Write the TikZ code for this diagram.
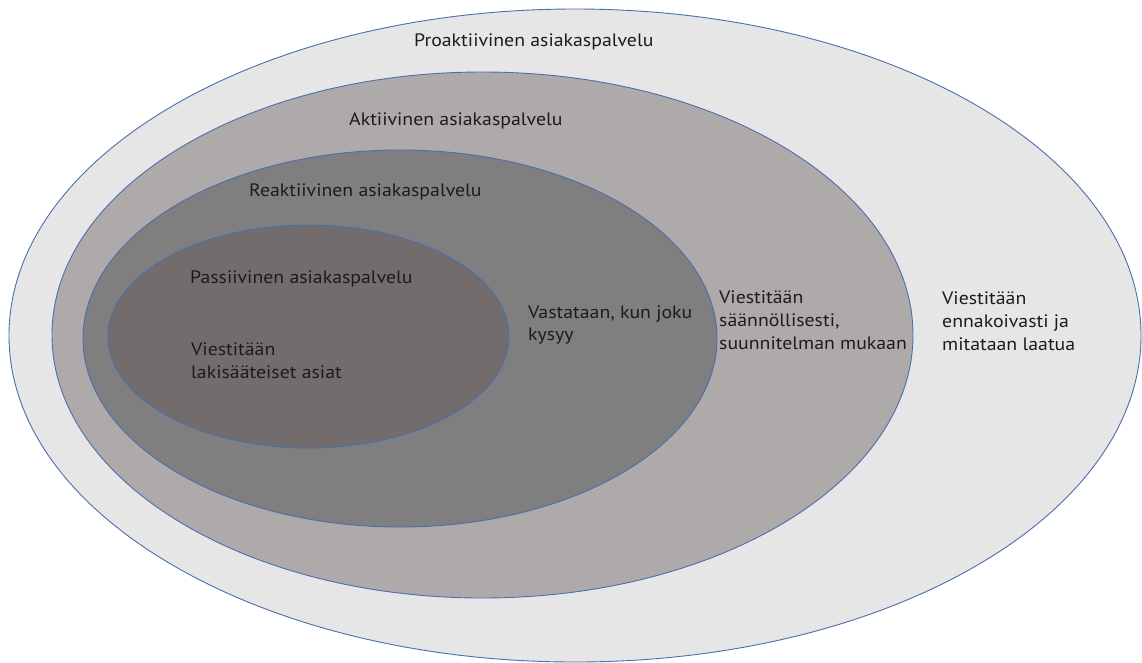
\documentclass[tikz,border=0pt]{standalone}
\usepackage{fontspec}
\setmainfont[FakeStretch=1.1]{PT Sans}
\definecolor{ringline}{HTML}{4A6FAE}
\definecolor{fillA}{HTML}{E7E6E6}
\definecolor{fillB}{HTML}{AEAAAA}
\definecolor{fillC}{HTML}{7F7F7F}
\definecolor{fillD}{HTML}{726D6C}
\definecolor{txt}{HTML}{1C1C1C}
\tikzset{
  ring/.style={draw=ringline, line width=0.9pt},
  lbl/.style={anchor=west, inner sep=0pt, align=left, text=txt,
    font=\fontsize{18}{22.8}\selectfont},
}
\begin{document}
\begin{tikzpicture}[x=1pt,y=-1pt]
\useasboundingbox (0,0) rectangle (1142,662);
\fill[white] (0,0) rectangle (1142,662);
\draw[ring, fill=fillA] (575,335.5) ellipse [x radius=566pt, y radius=326.5pt];
\draw[ring, fill=fillB] (482.5,335) ellipse [x radius=430.5pt, y radius=263pt];
\draw[ring, fill=fillC] (400,338.5) ellipse [x radius=317pt, y radius=188.5pt];
\draw[ring, fill=fillD] (308.5,336.5) ellipse [x radius=200.5pt, y radius=111.5pt];

\node[lbl] (pro) at (414,42) {Proaktiivinen asiakaspalvelu};
\node[lbl] (akt) at (349,121) {Aktiivinen asiakaspalvelu};
\node[lbl] (rea) at (249,192) {Reaktiivinen asiakaspalvelu};
\node[lbl] (pas) at (190,279) {Passiivinen asiakaspalvelu};
\node[lbl] (pasd) at (191,361) {Viestitään\\lakisääteiset asiat};
\node[lbl] (read) at (528,325) {Vastataan, kun joku\\kysyy};
\node[lbl] (aktd) at (719,320.5) {Viestitään\\säännöllisesti,\\suunnitelman mukaan};
\node[lbl] (prod) at (942,321) {Viestitään\\ennakoivasti ja\\mitataan laatua};
\end{tikzpicture}
\end{document}
